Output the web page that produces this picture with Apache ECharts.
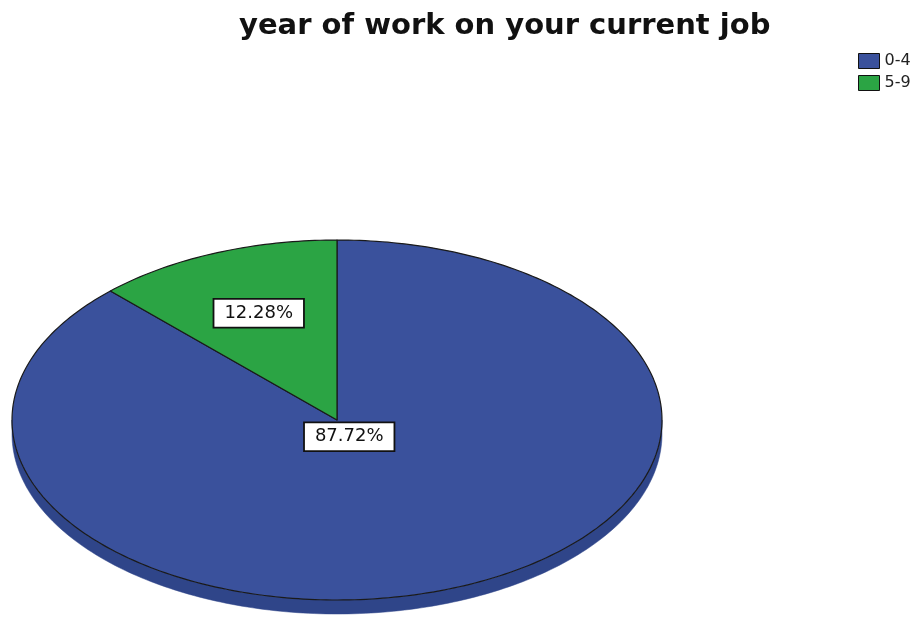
<!DOCTYPE html>
<html>
<head>
<meta charset="utf-8">
<script src="https://cdn.jsdelivr.net/npm/echarts@6/dist/echarts.min.js"></script>
<style>
  html, body { margin: 0; padding: 0; background: #fff; }
  #chart { width: 922px; height: 617px; }
</style>
</head>
<body>
<div id="chart"></div>
<script>
// Years of work on the current job, share of respondents (%)
const categories = ['0-4', '5-9'];
const percentValues = [87.72, 12.28];
const sliceColors = ['#3a519c', '#2ba444'];
const rimColors = ['#2f4589', '#20823a'];
// distance of each label from the centre along its slice's mid-angle (share of radius)
const labelRadius = [0.1, 0.64];

const FONT = '"DejaVu Sans", Verdana, sans-serif';

// tilted pie geometry
const pie = { cx: 337, cy: 420, rx: 325, ry: 180, depth: 14 };

const total = percentValues.reduce((a, b) => a + b, 0);
let running = 0;
// each slice as [startFraction, endFraction, value], clockwise from 12 o'clock
const spans = percentValues.map(v => {
  const start = running / total;
  running += v;
  return [start, running / total, v];
});

function ellipsePoint(t, dy) {
  return [pie.cx + pie.rx * Math.cos(t), pie.cy + pie.ry * Math.sin(t) + (dy || 0)];
}

function arcPoints(a0, a1, dy) {
  const n = Math.max(6, Math.ceil(Math.abs(a1 - a0) / (Math.PI / 180)));
  const pts = [];
  for (let i = 0; i <= n; i++) pts.push(ellipsePoint(a0 + (a1 - a0) * i / n, dy));
  return pts;
}

function makeRenderer(idx) {
  return function (params, api) {
    const s = api.value(0), e = api.value(1), v = api.value(2);
    const a0 = -Math.PI / 2 + s * 2 * Math.PI;
    const a1 = -Math.PI / 2 + e * 2 * Math.PI;
    const children = [];

    // front rim, visible where the slice lies in the lower half of the ellipse
    const lo = Math.max(a0, 0), hi = Math.min(a1, Math.PI);
    if (lo < hi) {
      const upper = arcPoints(lo, hi, 0);
      const lower = arcPoints(hi, lo, pie.depth);
      children.push({
        type: 'polygon',
        shape: { points: upper.concat(lower) },
        style: { fill: rimColors[idx], stroke: rimColors[idx], lineWidth: 0.5 }
      });
    }

    // top face of the slice
    const face = [[pie.cx, pie.cy]].concat(arcPoints(a0, a1, 0));
    children.push({
      type: 'polygon',
      shape: { points: face },
      style: { fill: sliceColors[idx], stroke: '#1a1a1a', lineWidth: 1.2, lineJoin: 'round' }
    });

    // percentage label
    const mid = (a0 + a1) / 2;
    const r = labelRadius[idx];
    children.push({
      type: 'text',
      z2: 100,
      style: {
        text: v.toFixed(2) + '%',
        x: pie.cx + pie.rx * r * Math.cos(mid),
        y: pie.cy + pie.ry * r * Math.sin(mid),
        align: 'center',
        verticalAlign: 'middle',
        fill: '#111',
        font: '18px ' + FONT,
        backgroundColor: '#fff',
        borderColor: '#111',
        borderWidth: 1.8,
        padding: [5, 10, 4, 10]
      }
    });

    return { type: 'group', children: children };
  };
}

const chart = echarts.init(document.getElementById('chart'), null, { renderer: 'canvas' });

chart.setOption({
  animation: false,
  color: sliceColors,
  textStyle: { fontFamily: FONT },
  title: {
    text: 'year of work on your current job',
    left: 234,
    top: 7,
    textStyle: { fontSize: 29, fontWeight: 'bold', color: '#111', fontFamily: FONT }
  },
  legend: {
    data: categories,
    orient: 'vertical',
    left: 853,
    top: 48,
    icon: 'rect',
    itemWidth: 21,
    itemHeight: 15,
    itemGap: 6,
    itemStyle: { borderColor: '#111', borderWidth: 1 },
    textStyle: { fontSize: 16, color: '#222', fontFamily: FONT },
    selectedMode: false
  },
  series: categories.map((name, i) => ({
    type: 'custom',
    name: name,
    coordinateSystem: 'none',
    itemStyle: { color: sliceColors[i] },
    renderItem: makeRenderer(i),
    data: [spans[i]]
  }))
});
</script>
</body>
</html>
